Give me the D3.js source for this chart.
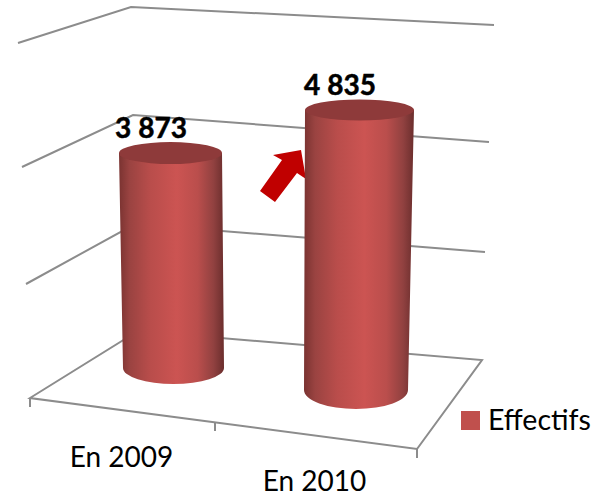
<!DOCTYPE html>
<html><head><meta charset="utf-8">
<script src="https://cdnjs.cloudflare.com/ajax/libs/d3/7.8.5/d3.min.js"></script>
<style>html,body{margin:0;padding:0;background:#fff}svg{display:block}text{font-family:Lato,"Noto Sans",sans-serif}</style>
</head><body><div id="c"></div>
<script>
const categories = ["En 2009", "En 2010"];
const effectifs = [3873, 4835];
const valueLabels = ["3 873", "4 835"];
const gridTicks = [0, 2000, 4000, 6000];
const seriesName = "Effectifs";

const W = 602, H = 498;
const svg = d3.select("#c").append("svg").attr("width", W).attr("height", H);

// Projection of the 3D box: one value scale per vertical edge of the walls
const leftEdgeY  = d3.scaleLinear().domain(gridTicks).range([397, 284, 167, 43]);
const cornerY    = d3.scaleLinear().domain(gridTicks).range([331, 224, 115, 7]);
const rightEdgeY = d3.scaleLinear().domain(gridTicks).range([360, 252, 142, 25]);
const leftEdgeX  = d3.scaleLinear().domain(gridTicks).range([30, 26, 22, 18]);
const cornerX    = d3.scaleLinear().domain(gridTicks).range([138, 135, 133, 131]);
const rightEdgeX = d3.scaleLinear().domain(gridTicks).range([482, 485, 489, 494]);

const gridColor = "#8c8c8c";
const line = d3.line();
svg.append("g").selectAll("path").data(gridTicks.slice(1)).join("path")
  .attr("d", t => line([[leftEdgeX(t), leftEdgeY(t)], [cornerX(t), cornerY(t)], [rightEdgeX(t), rightEdgeY(t)]]))
  .attr("fill", "none").attr("stroke", gridColor).attr("stroke-width", 2);

// Floor
const frontLeft = [30, 398], frontRight = [417, 449];
svg.append("path")
  .attr("d", line([frontLeft, [cornerX(0), cornerY(0)], [rightEdgeX(0), rightEdgeY(0)], frontRight]) + "Z")
  .attr("fill", "none").attr("stroke", gridColor).attr("stroke-width", 2);

// Category axis along the front floor edge
const tickKeys = [...categories, "end"];
const axisX = d3.scaleOrdinal().domain(tickKeys).range([frontLeft[0], 215, frontRight[0]]);
const axisY = d3.scaleOrdinal().domain(tickKeys).range([frontLeft[1], 422, frontRight[1]]);
svg.append("g").selectAll("line").data(tickKeys).join("line")
  .attr("x1", d => axisX(d)).attr("x2", d => axisX(d))
  .attr("y1", d => axisY(d)).attr("y2", d => axisY(d) + 9)
  .attr("stroke", gridColor).attr("stroke-width", 2);

// Arrow annotation (beneath the second cylinder)
svg.append("path")
  .attr("d", line([[260, 191], [282, 160], [273, 155], [301, 150], [306, 179], [297, 173], [275, 202]]) + "Z")
  .attr("fill", "#c00000");

// Cylinders: each one has its own value scale because of the perspective
const barCx = d3.scalePoint().domain(categories).range([170.5, 359.5]);
const barBase = d3.scaleOrdinal().domain(categories).range([368, 390]);
const barTop6000 = d3.scaleOrdinal().domain(categories).range([35, 42.5]);
const barRxTop = d3.scaleOrdinal().domain(categories).range([51.5, 54.5]);
const barRxBot = d3.scaleOrdinal().domain(categories).range([50.5, 52]);
const barRyTop = d3.scaleOrdinal().domain(categories).range([11, 10.5]);
const barRyBot = d3.scaleOrdinal().domain(categories).range([16, 19]);
const barShift = d3.scaleOrdinal().domain(categories).range([3, -3.5]);
const barY = c => d3.scaleLinear().domain([0, 6000]).range([barBase(c), barTop6000(c)]);

const defs = svg.append("defs");
const g = defs.append("linearGradient").attr("id", "cyl").attr("x1", 0).attr("x2", 1).attr("y1", 0).attr("y2", 0);
[[0, "#7a3331"], [0.1, "#9a4341"], [0.3, "#b94d4b"], [0.55, "#cc5452"], [0.75, "#ba4e4c"], [0.9, "#914140"], [1, "#6b2e2d"]]
  .forEach(([o, c]) => g.append("stop").attr("offset", o).attr("stop-color", c));

const bars = svg.append("g").selectAll("g").data(categories).join("g");
bars.append("path").attr("fill", "url(#cyl)").attr("d", (c, i) => {
  const cx = barCx(c), yT = barY(c)(effectifs[i]), yB = barBase(c);
  const rt = barRxTop(c), rb = barRxBot(c), ryT = barRyTop(c), ryB = barRyBot(c);
  const s = barShift(c);
  return `M${cx - rt},${yT} L${cx + s - rb},${yB} A${rb},${ryB} 0 0 0 ${cx + s + rb},${yB} L${cx + rt},${yT} Z`;
});
bars.append("ellipse").attr("fill", "#8e3a3a")
  .attr("cx", c => barCx(c)).attr("cy", (c, i) => barY(c)(effectifs[i]))
  .attr("rx", c => barRxTop(c)).attr("ry", c => barRyTop(c));

// Data labels
svg.append("g").selectAll("text").data(categories).join("text")
  .attr("x", c => barCx(c) - 19.5)
  .attr("y", (c, i) => barY(c)(effectifs[i]) - 15)
  .attr("text-anchor", "middle").attr("font-size", 28).attr("font-weight", 700)
  .attr("fill", "#000").attr("stroke", "#000").attr("stroke-width", 0.5)
  .text((c, i) => valueLabels[i]);

// Category labels
const labelX = d3.scalePoint().domain(categories).range([121.5, 314.5]);
const labelY = d3.scalePoint().domain(categories).range([467, 491]);
svg.append("g").selectAll("text").data(categories).join("text")
  .attr("x", c => labelX(c)).attr("y", c => labelY(c))
  .attr("text-anchor", "middle").attr("font-size", 28).attr("fill", "#000").text(c => c);

// Legend
svg.append("rect").attr("x", 461).attr("y", 411).attr("width", 19).attr("height", 19).attr("fill", "#c0504d");
svg.append("text").attr("x", 488).attr("y", 430).attr("font-size", 28.5).attr("fill", "#000").text(seriesName);
</script></body></html>
